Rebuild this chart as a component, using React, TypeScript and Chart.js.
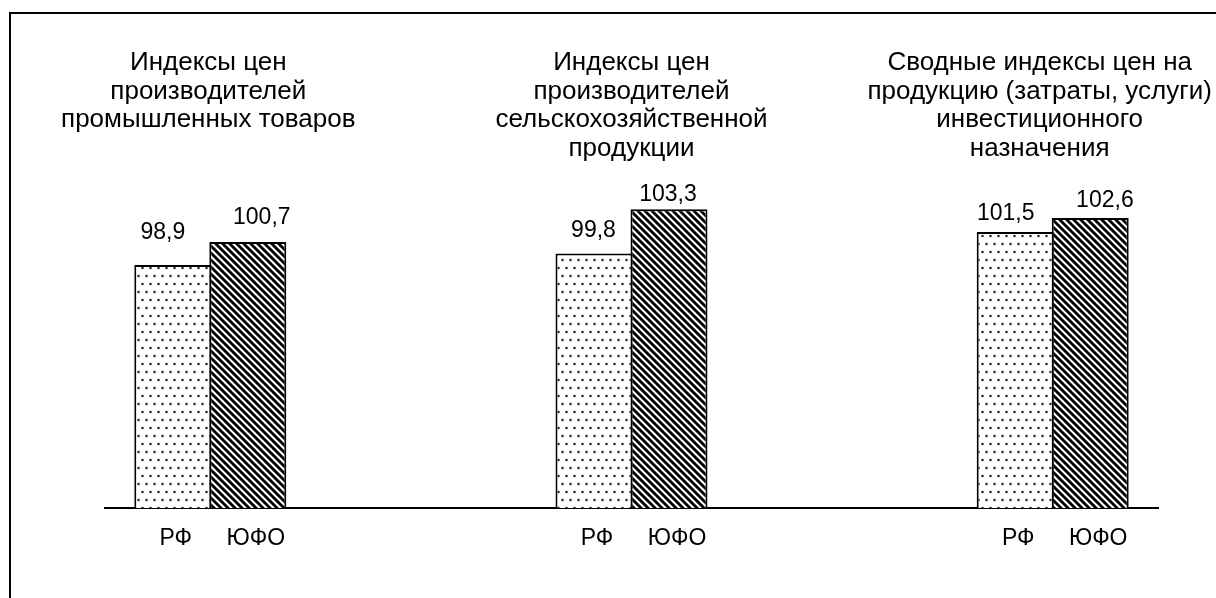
import React, { useEffect, useRef } from 'react';
import { Chart, registerables } from 'chart.js';

Chart.register(...registerables);

// ---- data ----
const categories: string[][] = [
  ['Индексы цен', 'производителей', 'промышленных товаров'],
  ['Индексы цен', 'производителей', 'сельскохозяйственной', 'продукции'],
  ['Сводные индексы цен на', 'продукцию (затраты, услуги)', 'инвестиционного', 'назначения'],
];
const seriesNames: string[] = ['РФ', 'ЮФО'];
const rfValues: number[] = [98.9, 99.8, 101.5];
const ufoValues: number[] = [100.7, 103.3, 102.6];

// ---- layout / styling config (not data) ----
const FONT = '"Liberation Sans", Arial, sans-serif';
const valueFont = `23px ${FONT}`;
const titleFont = `26px ${FONT}`;
// per dataset, per category: dx from bar centre, dy = gap from bar top to text baseline
const valueLabelOffsets = [
  [{ dx: -10, dy: 26 }, { dx: -0.5, dy: 16.7 }, { dx: -9.5, dy: 11.7 }],
  [{ dx: 14, dy: 17.7 }, { dx: -1, dy: 8.6 }, { dx: 14.7, dy: 10.6 }],
];
const seriesLabelDx = [3, 8];
const titleDx = [-2, 0, -13];

function makeDotPattern(): CanvasPattern | string {
  const c = document.createElement('canvas');
  c.width = 8;
  c.height = 16;
  const g = c.getContext('2d');
  if (!g) return '#fff';
  g.fillStyle = '#ffffff';
  g.fillRect(0, 0, 8, 16);
  g.fillStyle = '#2a2a2a';
  [[2.5, 4], [6.5, 12]].forEach(([x, y]) => {
    g.beginPath();
    g.arc(x, y, 1.3, 0, Math.PI * 2);
    g.fill();
  });
  const p = g.createPattern(c, 'repeat');
  return p || '#fff';
}

function makeHatchPattern(): CanvasPattern | string {
  const s = 7;
  const c = document.createElement('canvas');
  c.width = s;
  c.height = s;
  const g = c.getContext('2d');
  if (!g) return '#000';
  g.fillStyle = '#ffffff';
  g.fillRect(0, 0, s, s);
  g.strokeStyle = '#000000';
  g.lineWidth = 2.8;
  g.lineCap = 'square';
  for (let k = -1; k <= 1; k++) {
    g.beginPath();
    g.moveTo(k * s - 1, -1);
    g.lineTo(k * s + s + 1, s + 1);
    g.stroke();
  }
  const p = g.createPattern(c, 'repeat');
  return p || '#000';
}

const fmt = (v: number) => v.toFixed(1).replace('.', ',');

const framePlugin = {
  id: 'frame',
  beforeDraw(chart: any) {
    const { ctx, width, height } = chart;
    ctx.save();
    ctx.fillStyle = '#ffffff';
    ctx.fillRect(0, 0, width, height);
    ctx.strokeStyle = '#000000';
    ctx.lineWidth = 2;
    ctx.strokeRect(10, 13, width + 20, height + 20);
    ctx.restore();
  },
};

const textPlugin = {
  id: 'texts',
  afterDatasetsDraw(chart: any) {
    const { ctx, chartArea } = chart;
    ctx.save();
    ctx.fillStyle = '#000000';
    ctx.textAlign = 'center';
    ctx.textBaseline = 'alphabetic';

    chart.data.datasets.forEach((ds: any, di: number) => {
      const meta = chart.getDatasetMeta(di);
      meta.data.forEach((bar: any, i: number) => {
        const off = valueLabelOffsets[di][i];
        ctx.font = valueFont;
        ctx.fillText(fmt(ds.data[i].y), bar.x + off.dx, bar.y - off.dy);
        ctx.fillText(seriesNames[di], bar.x + seriesLabelDx[di], chartArea.bottom + 37);
      });
    });

    const m0 = chart.getDatasetMeta(0);
    const m1 = chart.getDatasetMeta(1);
    ctx.font = titleFont;
    categories.forEach((lines, i) => {
      const cx = (m0.data[i].x + m1.data[i].x) / 2 + titleDx[i];
      lines.forEach((line, li) => {
        ctx.fillText(line, cx, 70 + li * 28.5);
      });
    });
    ctx.restore();
  },
};

export default function App() {
  const ref = useRef<HTMLCanvasElement | null>(null);

  useEffect(() => {
    if (!ref.current) return;
    const chart = new Chart(ref.current, {
      type: 'bar',
      data: {
        datasets: [
          {
            label: seriesNames[0],
            data: categories.map((_, i) => ({ x: i, y: rfValues[i] })),
            backgroundColor: makeDotPattern() as any,
            borderColor: '#000000',
            borderWidth: 2,
            borderSkipped: false,
            categoryPercentage: 150 / 421.2,
            barPercentage: 77 / 75,
          },
          {
            label: seriesNames[1],
            data: categories.map((_, i) => ({ x: i, y: ufoValues[i] })),
            backgroundColor: makeHatchPattern() as any,
            borderColor: '#000000',
            borderWidth: 2,
            borderSkipped: false,
            categoryPercentage: 150 / 421.2,
            barPercentage: 77 / 75,
          },
        ],
      },
      options: {
        responsive: false,
        animation: false,
        events: [],
        layout: { padding: { left: 105, right: 58, top: 48.4, bottom: 90 } },
        plugins: {
          legend: { display: false },
          tooltip: { enabled: false },
          title: { display: false },
        },
        scales: {
          x: {
            type: 'linear',
            min: -0.25,
            max: 2.25,
            offset: false,
            bounds: 'data',
            display: true,
            grid: { display: false, drawTicks: false, offset: false },
            ticks: { display: false, stepSize: 1, includeBounds: false },
            afterBuildTicks: (s: any) => {
              s.ticks = categories.map((_, i) => ({ value: i }));
            },
            border: { display: true, color: '#000000', width: 2 },
          },
          y: {
            type: 'linear',
            min: 79.7,
            max: 116,
            display: false,
          },
        },
      },
      plugins: [framePlugin, textPlugin],
    });
    return () => chart.destroy();
  }, []);

  return (
    <div style={{ position: 'fixed', left: 0, top: 0, width: 1216, height: 598, overflow: 'hidden' }}>
      <canvas ref={ref} width={1216} height={598} style={{ display: 'block', width: 1216, height: 598 }} />
    </div>
  );
}
